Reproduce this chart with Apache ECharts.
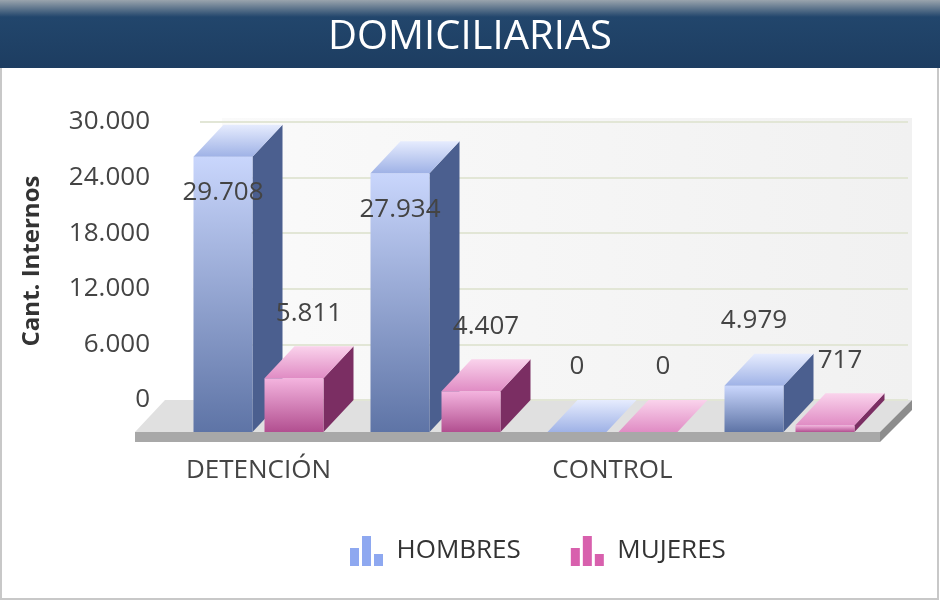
<!DOCTYPE html>
<html><head><meta charset="utf-8">
<script src="https://cdn.jsdelivr.net/npm/echarts@6/dist/echarts.min.js"></script>
<style>html,body{margin:0;padding:0;background:#fff}#c{width:940px;height:601px}</style>
</head><body><div id="c"></div>
<script>
const categories = ['DETENCIÓN','PRISIÓN','CONTROL','VIGILANCIA'];
const hombres = [29708, 27934, 0, 4979];
const mujeres = [5811, 4407, 0, 717];
const seriesNames = ['HOMBRES','MUJERES'];
const yTicks = [0, 6000, 12000, 18000, 24000, 30000];

const FONT = '"Open Sans","Noto Sans",sans-serif';
const fmt = v => v.toLocaleString('de-DE');
const DX = 30, DY = 32, W = 59;
const pal = [
  {front:['#c9d6fc','#5e74a6'], side:'#4b5f8f', top:['#e6ecfe','#9fb2e6']},
  {front:['#f4b4df','#b24f90'], side:'#7b2e63', top:['#fad3ec','#e08cc4']}
];
function grad(c){return new echarts.graphic.LinearGradient(0,0,0,1,[{offset:0,color:c[0]},{offset:1,color:c[1]}]);}

function render(si){
  return function(params, api){
    const idx = api.value(0), v = api.value(1);
    const base = api.coord([idx,0]), topP = api.coord([idx,v]);
    const cx = base[0];
    const xl = (si===0 ? cx-65 : cx+6);
    const fx = xl - DX;
    const fyb = base[1] + DY, fyt = topP[1] + DY;
    const p = pal[si];
    const children = [
      {type:'polygon', shape:{points:[[fx+W,fyt],[fx+W+DX,fyt-DY],[fx+W+DX,fyb-DY],[fx+W,fyb]]}, style:{fill:p.side}},
      {type:'rect', shape:{x:fx,y:fyt,width:W,height:Math.max(fyb-fyt,0.01)}, style:{fill:grad(p.front)}},
      {type:'polygon', shape:{points:[[fx,fyt],[fx+DX,fyt-DY],[fx+W+DX,fyt-DY],[fx+W,fyt]]}, style:{fill:grad(p.top)}}
    ];
    const ly = v > 20000 ? topP[1] + 68 : topP[1] - 33;
    children.push({type:'text', style:{text:fmt(v), x:fx+W/2+(si===1?15:0), y:ly, align:'center', verticalAlign:'middle', font:'26px '+FONT, fill:'#444'}});
    return {type:'group', children};
  };
}
const icon = 'path://M0,10L3,10L3,4L0,4Z M4,10L7,10L7,0L4,0Z M8,10L11,10L11,6L8,6Z';
const chart = echarts.init(document.getElementById('c'));
chart.setOption({
  animation:false,
  graphic:[
    {type:'rect', shape:{x:1,y:1,width:937,height:598}, style:{fill:'none',stroke:'#c8c8c8',lineWidth:2}, z:-10},
    {type:'rect', shape:{x:0,y:0,width:940,height:68}, style:{fill:new echarts.graphic.LinearGradient(0,0,0,1,[{offset:0,color:'#9aa4ad'},{offset:0.25,color:'#22466c'},{offset:1,color:'#1d3d61'}])}, z:-9},
    {type:'text', style:{text:'DOMICILIARIAS', x:470, y:38, align:'center', verticalAlign:'middle', font:'40px '+FONT, fill:'#fff'}},
    {type:'rect', shape:{x:222,y:118,width:690,height:282}, style:{fill:new echarts.graphic.LinearGradient(0,0,1,0,[{offset:0,color:'#fafafa'},{offset:1,color:'#f1f1f1'}])}, z:-8},
    {type:'polygon', shape:{points:[[165,400],[912,400],[880,432],[135,432]]}, style:{fill:'#e0e0e0'}, z:-7},
    {type:'polygon', shape:{points:[[135,432],[880,432],[880,442],[135,442]]}, style:{fill:'#a8a8a8'}, z:-7},
    {type:'polygon', shape:{points:[[880,432],[912,400],[912,410],[880,442]]}, style:{fill:'#8c8c8c'}, z:-7}
  ],
  legend:{bottom:30, left:345, itemWidth:34, itemHeight:30, itemGap:50, icon:icon,
    textStyle:{fontSize:26, color:'#333', fontFamily:FONT, padding:[0,0,0,8]}, data:seriesNames, selectedMode:false},
  grid:{left:200, right:32, top:122, bottom:201},
  xAxis:{type:'category', data:categories, axisLine:{show:false}, axisTick:{show:false},
    axisLabel:{margin:58, fontSize:26, color:'#444', fontFamily:FONT, padding:[0,60,0,0]}},
  yAxis:{type:'value', min:yTicks[0], max:yTicks[yTicks.length-1], interval:6000,
    name:'Cant. Internos', nameLocation:'middle', nameGap:156, nameRotate:90,
    nameTextStyle:{fontSize:24, fontWeight:'bold', color:'#333', fontFamily:FONT},
    axisLabel:{margin:50, fontSize:26, color:'#444', fontFamily:FONT, formatter:v=>fmt(v)},
    splitLine:{lineStyle:{color:'#e2e6d6', width:2}}, axisLine:{show:false}, axisTick:{show:false}},
  series:[
    {name:seriesNames[0], type:'custom', renderItem:render(0), itemStyle:{color:'#8ea8f0'}, data:hombres.map((v,i)=>[i,v]), encode:{x:0,y:1}},
    {name:seriesNames[1], type:'custom', renderItem:render(1), itemStyle:{color:'#d860ad'}, data:mujeres.map((v,i)=>[i,v]), encode:{x:0,y:1}}
  ]
});
</script></body></html>
